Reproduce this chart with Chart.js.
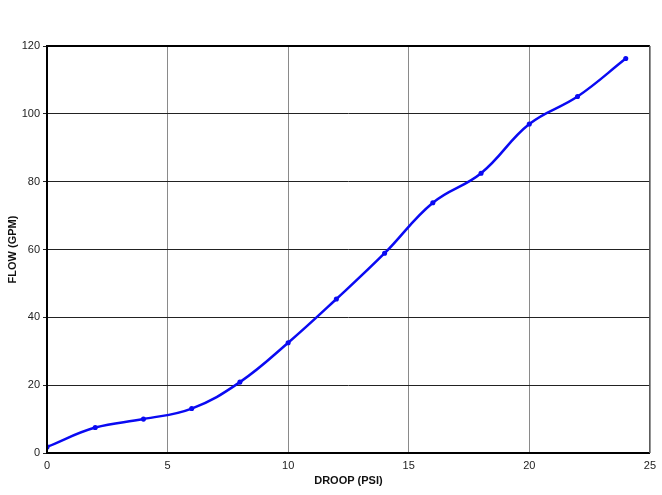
<!DOCTYPE html>
<html>
<head>
<meta charset="utf-8">
<script src="https://cdn.jsdelivr.net/npm/chart.js@4.4.0/dist/chart.umd.min.js"></script>
<style>
  html, body { margin: 0; padding: 0; background: #fff; }
  #wrap { width: 662px; height: 495px; }
</style>
</head>
<body>
<div id="wrap"><canvas id="chart" width="662" height="495"></canvas></div>
<script>
const droop = [0, 2, 4, 6, 8, 10, 12, 14, 16, 18, 20, 22, 24];
const flow = [1.8, 7.5, 10, 13.1, 20.9, 32.5, 45.4, 58.9, 73.8, 82.5, 97, 105.1, 116.3];
const xTicks = [0, 5, 10, 15, 20, 25];
const yTicks = [0, 20, 40, 60, 80, 100, 120];

const points = droop.map((x, i) => ({ x: x, y: flow[i] }));

// frame round the plot area: black top/left/bottom, grey right
const framePlugin = {
  id: "frame",
  afterDraw(chart) {
    const { ctx, chartArea: a } = chart;
    ctx.save();
    ctx.strokeStyle = "#000";
    ctx.lineWidth = 2;
    ctx.beginPath();
    ctx.moveTo(a.right, a.top);
    ctx.lineTo(a.left, a.top);
    ctx.lineTo(a.left, a.bottom);
    ctx.lineTo(a.right, a.bottom);
    ctx.stroke();
    ctx.strokeStyle = "#555";
    ctx.lineWidth = 1.5;
    ctx.beginPath();
    ctx.moveTo(a.right, a.top);
    ctx.lineTo(a.right, a.bottom);
    ctx.stroke();
    ctx.restore();
  }
};

Chart.defaults.font.family = "'Liberation Sans', Arial, sans-serif";
Chart.defaults.font.size = 11;
Chart.defaults.color = "#222";

new Chart(document.getElementById("chart").getContext("2d"), {
  type: "line",
  data: {
    datasets: [{
      data: points,
      borderColor: "#0a0af2",
      backgroundColor: "#0a0af2",
      borderWidth: 2.5,
      pointRadius: 1.3,
      pointHoverRadius: 1.3,
      tension: 0.4,
      fill: false
    }]
  },
  options: {
    responsive: false,
    animation: false,
    devicePixelRatio: 1,
    layout: { padding: { top: 46, right: 11, left: 6, bottom: 0 } },
    plugins: {
      legend: { display: false },
      tooltip: { enabled: false }
    },
    scales: {
      x: {
        type: "linear",
        min: 0,
        max: 25,
        afterBuildTicks: (scale) => { scale.ticks = xTicks.map(v => ({ value: v })); },
        afterFit: (scale) => { scale.height = 42; },
        border: { display: false },
        grid: { color: "#8a8a8a", lineWidth: 1, drawTicks: false },
        ticks: { padding: 6, maxRotation: 0 },
        title: {
          display: true,
          text: "DROOP (PSI)",
          font: { weight: "bold", size: 11 },
          color: "#111",
          padding: { top: 0, bottom: 7 }
        }
      },
      y: {
        min: 0,
        max: 120,
        afterBuildTicks: (scale) => { scale.ticks = yTicks.map(v => ({ value: v })); },
        afterFit: (scale) => { scale.width = 41; },
        border: { display: false },
        grid: { color: "#222", lineWidth: 1, tickLength: 4 },
        ticks: { padding: 3 },
        title: {
          display: true,
          text: "FLOW (GPM)",
          font: { weight: "bold", size: 11 },
          color: "#111",
          padding: { top: 0, bottom: 0 }
        }
      }
    }
  },
  plugins: [framePlugin]
});
</script>
</body>
</html>
